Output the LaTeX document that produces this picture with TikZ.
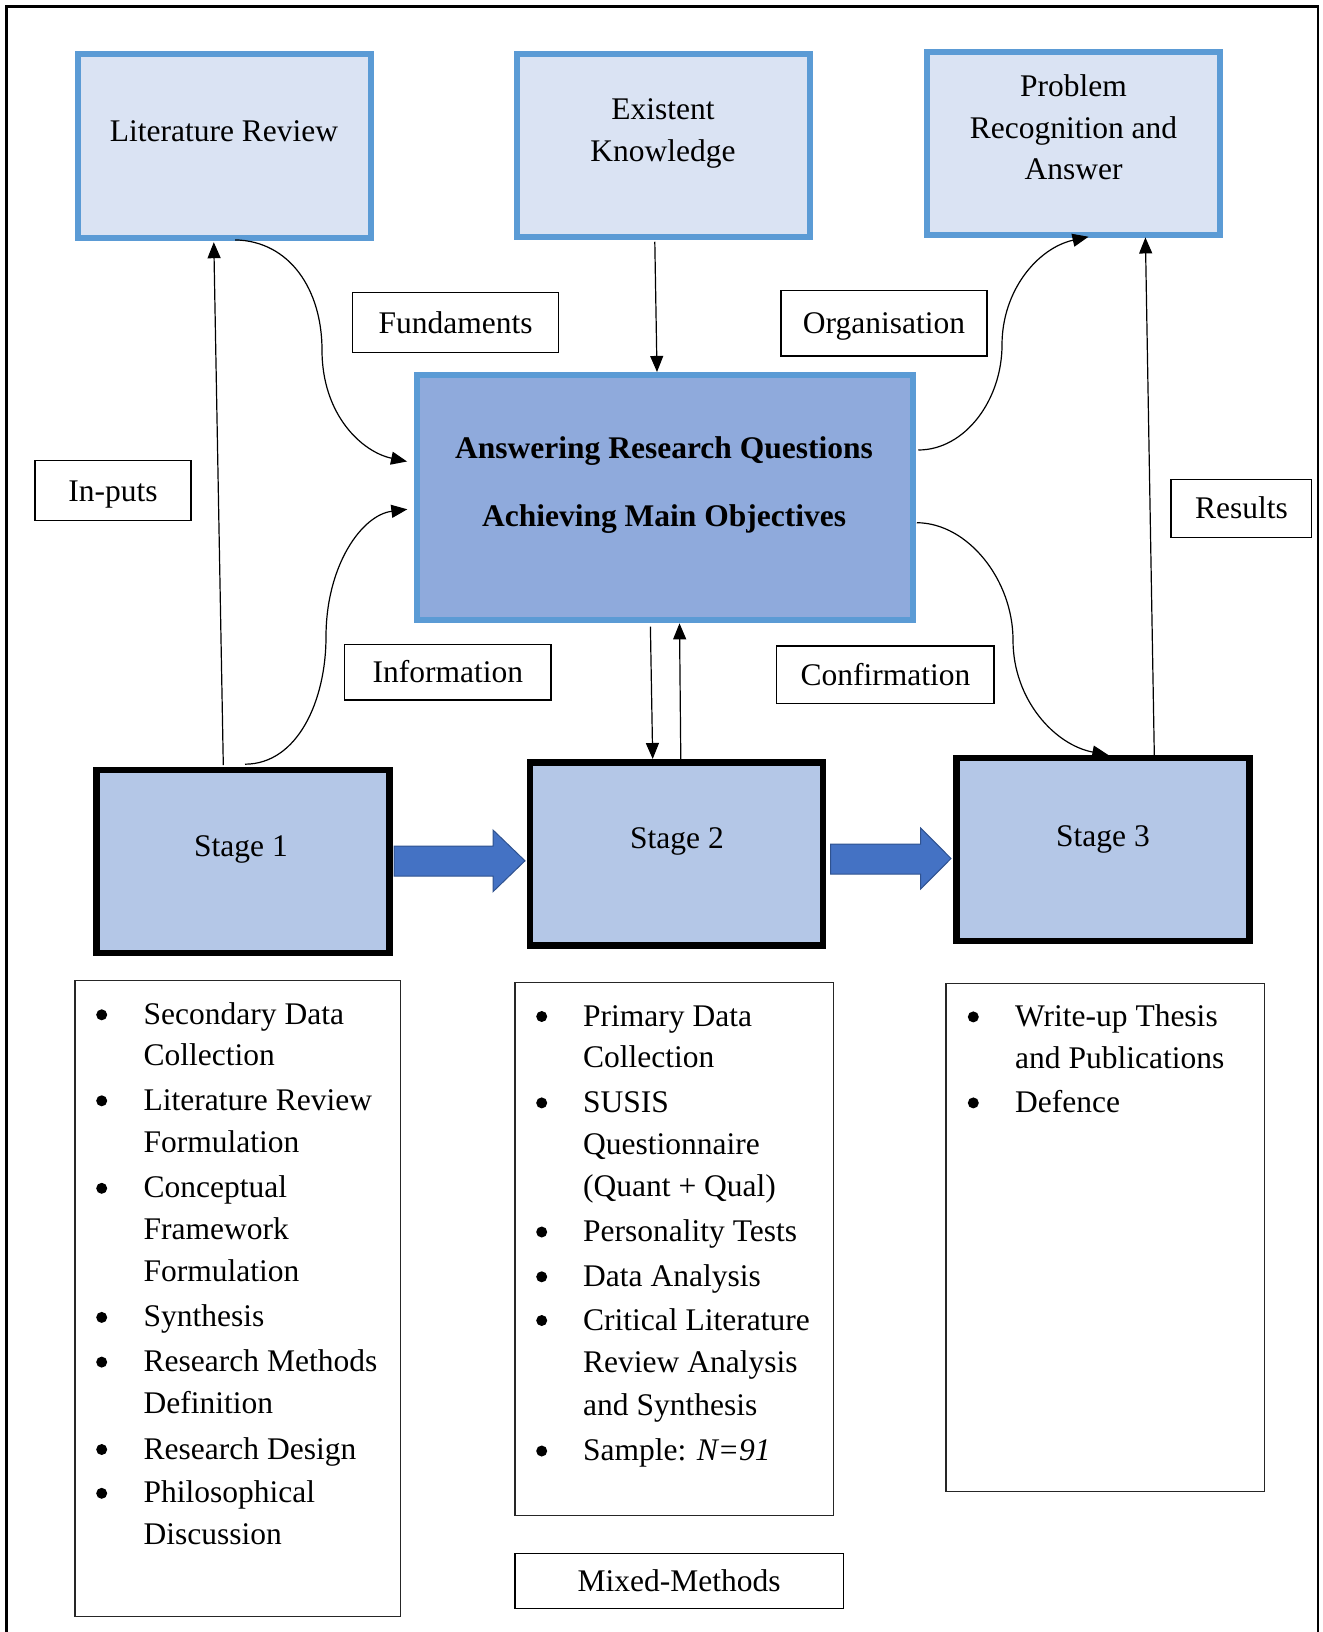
\documentclass[tikz,border=0pt]{standalone}
\usepackage{fontspec}
\setmainfont{Liberation Serif}
\usetikzlibrary{arrows.meta,calc}
\definecolor{topfill}{HTML}{DAE3F3}
\definecolor{blueline}{HTML}{5B9BD5}
\definecolor{cenfill}{HTML}{8FAADC}
\definecolor{stfill}{HTML}{B4C7E7}
\definecolor{barrow}{HTML}{4472C4}
\definecolor{barrowline}{HTML}{2F528F}
\begin{document}
\begin{tikzpicture}[x=1pt,y=-1pt,
  every node/.style={font=\fontsize{31.5}{41.6}\selectfont},
  topbox/.style={draw=blueline, fill=topfill, line width=6pt, minimum width=293pt, minimum height=183.5pt, inner sep=0pt, outer sep=0pt},
  cenbox/.style={draw=blueline, fill=cenfill, line width=6.5pt, minimum width=495.7pt, minimum height=245.1pt, inner sep=0pt, outer sep=0pt},
  stagebox/.style={draw=black, fill=stfill, line width=6.5pt, minimum width=293pt, minimum height=183pt, inner sep=0pt, outer sep=0pt},
  labbox/.style={draw=black, fill=white, line width=1.3pt, inner sep=0pt, outer sep=0pt, text height=21pt, text depth=0pt},
  listbox/.style={draw=black!85, line width=1.3pt, inner sep=0pt, outer sep=0pt},
  txt/.style={anchor=base, inner sep=0pt},
  ltxt/.style={anchor=base west, inner sep=0pt},
  bul/.style={circle, fill=black, inner sep=0pt, minimum size=11pt},
  conn/.style={line width=1.2pt, -{Triangle[length=16pt,width=13pt]}},
  barr/.style={fill=barrow, draw=barrowline, line width=1pt}]

\useasboundingbox (0,0) rectangle (1322,1632);
\draw[line width=2.2pt] (6.5,6.5) rectangle (1318.3,1650);

% top boxes
\node[topbox] (lit) at (224.1,145.85) {};
\node[txt] (litT) at (224,141.7) {Literature Review};
\node[topbox] (exi) at (663.2,145.5) {};
\node[txt] (exiT1) at (663,120) {Existent};
\node[txt] (exiT2) at (663,161.7) {Knowledge};
\node[topbox] (pro) at (1073.3,143.7) {};
\node[txt] (proT1) at (1073.5,96.7) {Problem};
\node[txt] (proT2) at (1073.5,138.3) {Recognition and};
\node[txt] (proT3) at (1073.5,180) {Answer};

% central box
\node[cenbox] (cen) at (664.9,497.5) {};
\node[txt,font=\fontsize{31.5}{41.6}\selectfont\bfseries] (cenT1) at (664,458.3) {Answering Research Questions};
\node[txt,font=\fontsize{31.5}{41.6}\selectfont\bfseries] (cenT2) at (664,526.7) {Achieving Main Objectives};

% stages
\node[stagebox] (st1) at (242.9,861.7) {};
\node[txt] (st1T) at (241,856.7) {Stage 1};
\node[stagebox] (st2) at (676.7,854) {};
\node[txt] (st2T) at (677,848.3) {Stage 2};
\node[stagebox] (st3) at (1103.2,849.7) {};
\node[txt] (st3T) at (1103,846) {Stage 3};

% block arrows
\draw[barr] (394,846) -- (493,846) -- (493,830) -- (525,860.8) -- (493,891.7) -- (493,876) -- (394,876) -- cycle;
\draw[barr] (830.5,844) -- (920.7,844) -- (920.7,828) -- (951,858.5) -- (920.7,889) -- (920.7,874) -- (830.5,874) -- cycle;

% labels
\node[labbox, minimum width=205.8pt, minimum height=60pt] (fund) at (455.6,322.7) {Fundaments};
\node[labbox, minimum width=206pt, minimum height=65.3pt] (org) at (884,323.3) {Organisation};
\node[labbox, minimum width=156pt, minimum height=60pt] (inp) at (113,490.7) {In-puts};
\node[labbox, minimum width=206.4pt, minimum height=55.7pt] (inf) at (447.8,672.2) {Information};
\node[labbox, minimum width=217.2pt, minimum height=57.3pt] (conf) at (885.4,674.7) {Confirmation};
\node[labbox, minimum width=140.7pt, minimum height=58pt] (res) at (1241.4,508.3) {Results};
\node[labbox, minimum width=328.3pt, minimum height=55pt] (mix) at (679.2,1580.8) {Mixed-Methods};

% connectors
\draw[conn] ($(st1.north)+(-19.6,-5)$) -- ($(lit.south)+(-10.3,4.6)$);
\draw[conn] ($(lit.south)+(11,2.3)$) .. controls (290,241) and (322,290) .. (322,350) .. controls (322,415) and (362,452) .. ($(cen.west)+(-10,-36)$);
\draw[conn] ($(st1.north)+(2.1,-6)$) .. controls (298,764) and (326,700) .. (326,637) .. controls (326,565) and (362,515) .. ($(cen.west)+(-9.7,11.8)$);
\draw[conn] ($(exi.south)+(-8.4,4.5)$) -- ($(cen.north)+(-7.9,-3)$);
\draw[conn] ($(cen.east)+(5.5,-47.5)$) .. controls (965,450) and (1002,400) .. (1002,345) .. controls (1002,290) and (1038,248) .. ($(pro.south)+(15.2,1.3)$);
\draw[conn] ($(st3.north)+(51.1,-3.2)$) -- ($(pro.south)+(72.1,2)$);
\draw[conn] ($(cen.east)+(4,25.2)$) .. controls (968,523) and (1013,580) .. (1013,640) .. controls (1013,700) and (1055,745) .. ($(st3.north)+(5.1,-3.2)$);
\draw[conn] ($(cen.south)+(-14.5,6.6)$) -- ($(st2.north)+(-24,-3.5)$);
\draw[conn] ($(st2.north)+(4.1,-2.5)$) -- ($(cen.south)+(14.6,3.3)$);

% list boxes
\node[listbox, minimum width=325.8pt, minimum height=636pt] (l1) at (237.9,1298.6) {};
\node[listbox, minimum width=318.8pt, minimum height=533pt] (l2) at (674.4,1249.2) {};
\node[listbox, minimum width=318.3pt, minimum height=507.9pt] (l3) at (1105.2,1237.6) {};

\foreach \posy/\itx/\isb [count=\i] in {1024.3/{Secondary Data}/1, 1065.6/{Collection}/0, 1110.3/{Literature Review}/1, 1152/{Formulation}/0, 1197.8/{Conceptual}/1, 1239.4/{Framework}/0, 1281/{Formulation}/0, 1326.9/{Synthesis}/1, 1371.6/{Research Methods}/1, 1413.3/{Definition}/0, 1459/{Research Design}/1, 1502.8/{Philosophical}/1, 1544.4/{Discussion}/0}{
  \node[ltxt] (la\i) at (143.5,\posy) {\itx};
  \ifnum\isb=1 \node[bul] (lab\i) at (101.7,\posy-9.5) {}; \fi
}
\foreach \posy/\itx/\isb [count=\i] in {1026/{Primary Data}/1, 1067.6/{Collection}/0, 1112.4/{SUSIS}/1, 1154/{Questionnaire}/0, 1196.7/{(Quant + Qual)}/0, 1241.5/{Personality Tests}/1, 1286.3/{Data Analysis}/1, 1330/{Critical Literature}/1, 1372.7/{Review Analysis}/0, 1415.4/{and Synthesis}/0, 1460.5/{Sample: \textit{N=91}}/1}{
  \node[ltxt] (lb\i) at (583,\posy) {\itx};
  \ifnum\isb=1 \node[bul] (lbb\i) at (541.7,\posy-9.5) {}; \fi
}
\foreach \posy/\itx/\isb [count=\i] in {1026.4/{Write-up Thesis}/1, 1068/{and Publications}/0, 1112.4/{Defence}/1}{
  \node[ltxt] (lc\i) at (1015,\posy) {\itx};
  \ifnum\isb=1 \node[bul] (lcb\i) at (973.3,\posy-9.5) {}; \fi
}
\end{tikzpicture}
\end{document}
